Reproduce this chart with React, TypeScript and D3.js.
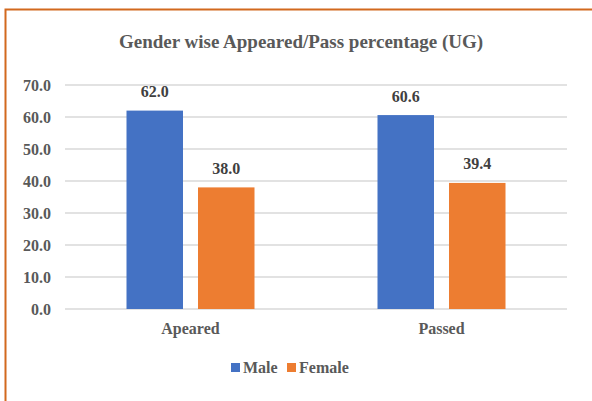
import React from "react";
import * as d3 from "d3";

const categories = ["Apeared", "Passed"];
const seriesNames = ["Male", "Female"];
const maleValues = [62.0, 60.6];
const femaleValues = [38.0, 39.4];
const yTicks = [0, 10, 20, 30, 40, 50, 60, 70];
const colors = ["#4472C4", "#ED7D31"];
const title = "Gender wise Appeared/Pass percentage (UG)";

export default function App() {
  const W = 592, H = 401;
  const left = 65, right = 567, top = 85, bottom = 309;
  const font = "'Liberation Serif', 'Times New Roman', serif";
  const x0 = d3.scaleBand().domain(categories).range([left, right]).paddingInner(0).paddingOuter(0);
  const x1 = d3.scaleBand().domain(seriesNames).range([0, x0.bandwidth()]).paddingInner(0.21).paddingOuter(0.86);
  const y = d3.scaleLinear().domain([0, 70]).range([bottom, top]);
  const series = [maleValues, femaleValues];
  return (
    <svg width={W} height={H} style={{ position: "absolute", left: 0, top: 0 }}>
      <rect x={0} y={0} width={W} height={H} fill="#fff" />
      <rect x={5.5} y={9.5} width={W} height={H + 20} fill="none" stroke="#D2691E" strokeWidth={2} />
      <text x={301} y={48} textAnchor="middle" fontFamily={font} fontWeight="bold" fontSize={19} fill="#595959">{title}</text>
      {yTicks.map((t) => (
        <g key={t}>
          <line x1={left} x2={right} y1={y(t)} y2={y(t)} stroke="#D9D9D9" strokeWidth={1.3} />
          <text x={51} y={y(t)} dy="0.35em" textAnchor="end" fontFamily={font} fontWeight="bold" fontSize={16} fill="#595959">{t.toFixed(1)}</text>
        </g>
      ))}
      {categories.map((c, ci) => (
        <g key={c}>
          {series.map((vals, si) => {
            const bx = (x0(c) as number) + (x1(seriesNames[si]) as number);
            return (
              <g key={si}>
                <rect x={bx} y={y(vals[ci])} width={x1.bandwidth()} height={bottom - y(vals[ci])} fill={colors[si]} />
                <text x={bx + x1.bandwidth() / 2} y={y(vals[ci]) - 13.5} textAnchor="middle" fontFamily={font} fontWeight="bold" fontSize={16} fill="#404040">{vals[ci].toFixed(1)}</text>
              </g>
            );
          })}
          <text x={(x0(c) as number) + x0.bandwidth() / 2} y={334} textAnchor="middle" fontFamily={font} fontWeight="bold" fontSize={16} fill="#595959">{c}</text>
        </g>
      ))}
      {seriesNames.map((s, i) => {
        const lx = [231, 287][i];
        return (
          <g key={s}>
            <rect x={lx} y={363} width={9} height={9} fill={colors[i]} />
            <text x={lx + 12} y={373} fontFamily={font} fontWeight="bold" fontSize={16} fill="#595959">{s}</text>
          </g>
        );
      })}
    </svg>
  );
}
